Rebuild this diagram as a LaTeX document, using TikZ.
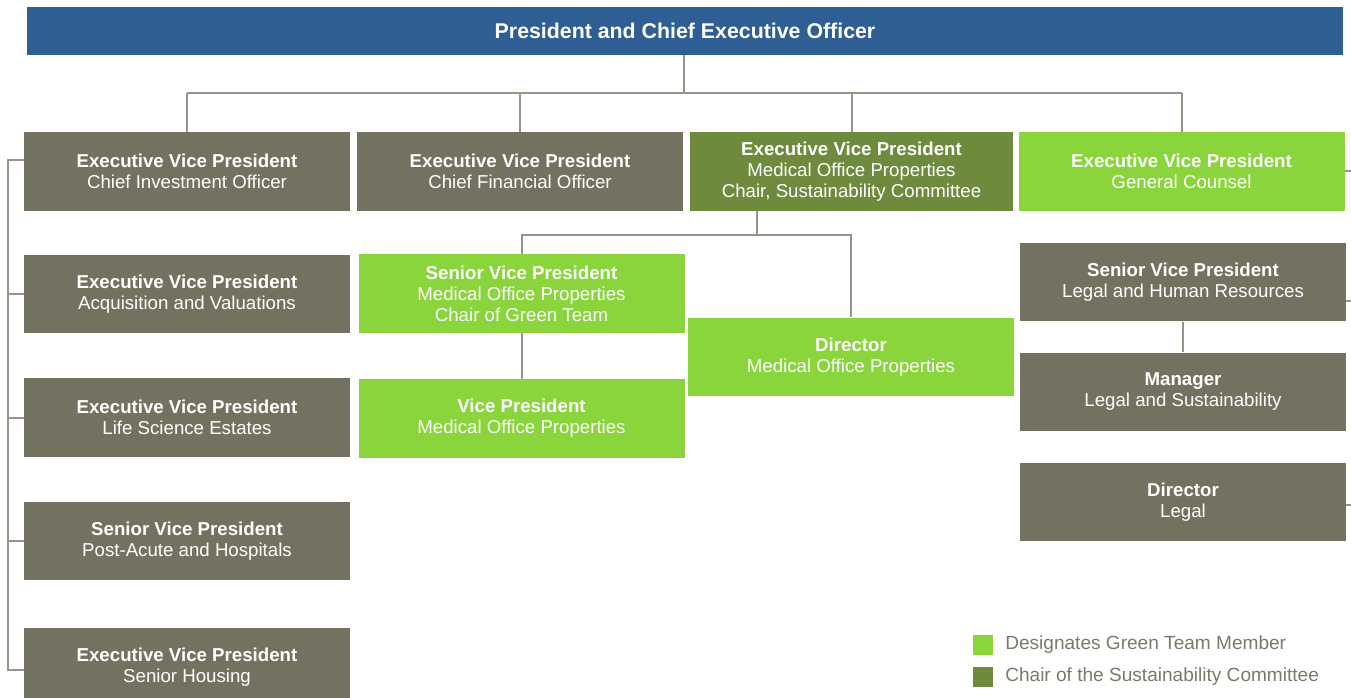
\documentclass[tikz,border=0pt]{standalone}
\usepackage{fontspec}
\setmainfont{Liberation Sans}
\usepackage{xcolor}
\usepackage{tikz}

\definecolor{ceoblue}{RGB}{46,94,148}
\definecolor{boxgray}{RGB}{115,114,96}
\definecolor{chairgreen}{RGB}{110,139,61}
\definecolor{teamgreen}{RGB}{138,212,60}
\definecolor{linegray}{RGB}{150,150,136}
\definecolor{keytext}{RGB}{122,122,106}

\begin{document}
\begin{tikzpicture}[x=0.75pt,y=-0.75pt,
		orgbox/.style={rectangle, inner sep=0pt, text=white, align=center,
			minimum width=244.5pt, minimum height=59pt,
			font=\fontsize{14}{15.75}\selectfont},
		link/.style={draw=linegray, line width=1.5pt},
		keysq/.style={rectangle, inner sep=0pt, minimum size=15pt},
		keytxt/.style={text=keytext, anchor=west, inner sep=0pt,
			font=\fontsize{14.3}{16}\selectfont}]
				\useasboundingbox (0,0) rectangle (1351,698);
				
				% top
				\node[rectangle, fill=ceoblue, minimum width=987pt, minimum height=36pt,
					text=white, font=\bfseries\fontsize{16}{18}\selectfont] (ceo) at (685,31)
					{President and Chief Executive Officer};
				
				% first row
				\node[orgbox, fill=boxgray] (cio) at (187,171.5)
					{\textbf{Executive Vice President}\\Chief Investment Officer};
				\node[orgbox, fill=boxgray] (cfo) at (520,171.5)
					{\textbf{Executive Vice President}\\Chief Financial Officer};
				\node[orgbox, fill=chairgreen, minimum width=242.5pt] (evpmop) at (851.5,171.5)
					{\textbf{Executive Vice President}\\Medical Office Properties\\Chair, Sustainability Committee};
				\node[orgbox, fill=teamgreen] (gc) at (1181.5,171.5)
					{\textbf{Executive Vice President}\\General Counsel};
				
				% left column
				\node[orgbox, fill=boxgray] (acq) at (187,294)
					{\textbf{Executive Vice President}\\Acquisition and Valuations};
				\node[orgbox, fill=boxgray] (life) at (187,417.5)
					{\textbf{Executive Vice President}\\Life Science Estates};
				\node[orgbox, fill=boxgray] (postacute) at (187,541)
					{\textbf{Senior Vice President}\\Post-Acute and Hospitals};
				\node[orgbox, fill=boxgray] (housing) at (187,667)
					{\textbf{Executive Vice President}\\Senior Housing};
				
				% medical office properties
				\node[orgbox, fill=teamgreen] (svpmop) at (521.5,293.5)
					{\textbf{Senior Vice President}\\Medical Office Properties\\Chair of Green Team};
				\node[orgbox, fill=teamgreen] (vpmop) at (521.5,418.5)
					{\textbf{Vice President}\\Medical Office Properties};
				\node[orgbox, fill=teamgreen] (dirmop) at (851,357)
					{\textbf{Director}\\Medical Office Properties};
				
				% legal
				\node[orgbox, fill=boxgray] (svplegal) at (1183,282)
					{\textbf{Senior Vice President}\\Legal and Human Resources};
				\node[orgbox, fill=boxgray] (manager) at (1183,392)
					{\textbf{Manager}\\Legal and Sustainability};
				\node[orgbox, fill=boxgray] (dirlegal) at (1183,502)
					{\textbf{Director}\\Legal};
				
				% connectors
				\coordinate (topbus) at (684,93);
				\coordinate (mopbus) at (757,235);
				\coordinate (lbar) at (8,0);
				
				\draw[link] (ceo.south -| topbus) -- (topbus);
				\draw[link] (cio.north |- topbus) -- (gc.north |- topbus);
				\foreach \x in {cio,cfo,evpmop,gc}{
					\draw[link] (\x.north) -- (\x.north |- topbus);
				}
				
				\draw[link] (cio.west |- 0,160) -| (lbar |- 0,670) -- (housing.west |- 0,670);
				\foreach \x in {acq,life,postacute}{
					\draw[link] (\x.west) -- (\x.west -| lbar);
				}
				
				\draw[link] (evpmop.south -| mopbus) -- (mopbus);
				\draw[link] (svpmop.north) |- (mopbus);
				\draw[link] (mopbus) -| (dirmop.north);
				\draw[link] (svpmop) -- (vpmop);
				\draw[link] (svplegal) -- (manager);
				
				% off to the right
				\draw[link] (gc.east) -- ++(8,0);
				\draw[link] (svplegal.east |- 0,301) -- ++(6,0);
				\draw[link] (dirlegal.east |- 0,505) -- ++(6,0);
				
				% key
				\node[keysq, fill=teamgreen] (keyteam) at (983,645) {};
				\node[keysq, fill=chairgreen] (keychair) at (983,677) {};
				\node[keytxt] (keyteamtxt) at (1005,645) {Designates Green Team Member};
				\node[keytxt] (keychairtxt) at (1005,677) {Chair of the Sustainability Committee};
			\end{tikzpicture}
\end{document}
